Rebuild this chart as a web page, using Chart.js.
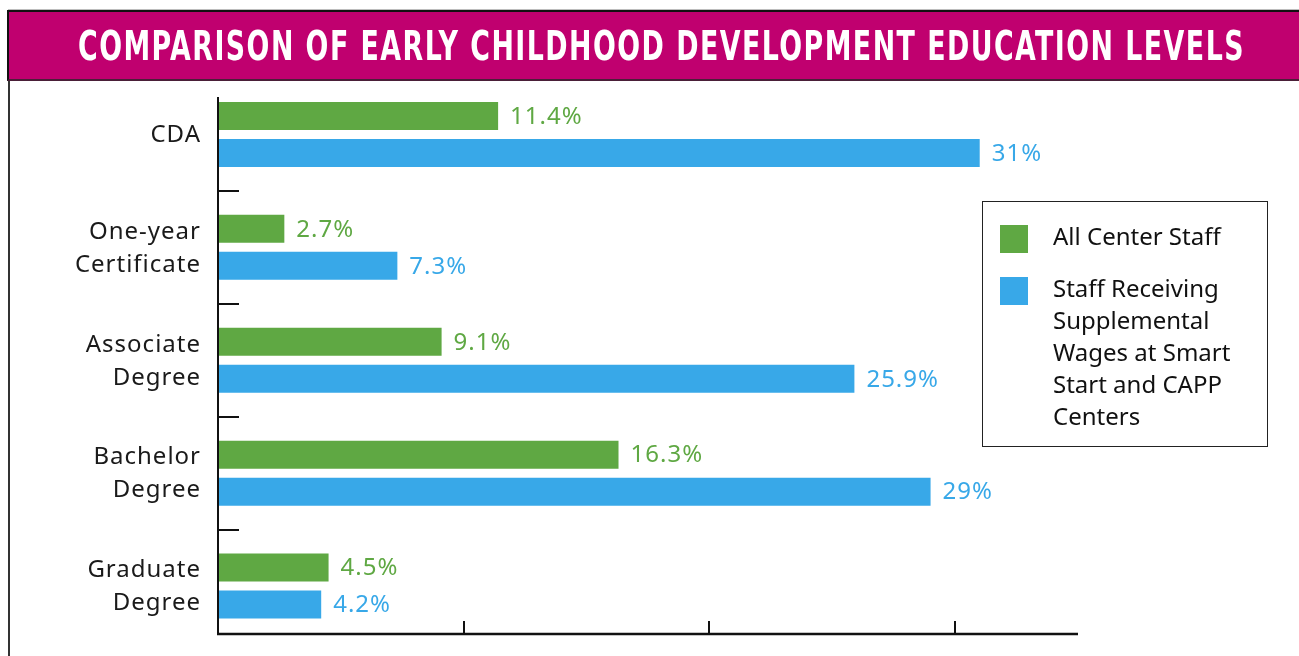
<!DOCTYPE html>
<html>
<head>
<meta charset="utf-8">
<script src="https://cdn.jsdelivr.net/npm/chart.js@4.4.1/dist/chart.umd.min.js"></script>
<style>
  html, body { margin:0; padding:0; background:#fff; width:1299px; height:656px; overflow:hidden; }
  #topline { position:absolute; left:8px; top:9px; width:1291px; height:1px; background:#bdbdbd; }
  #banner { position:absolute; left:7px; top:10px; width:1292px; height:71px; box-sizing:border-box;
            background:#C0006F; border-top:2px solid #111; border-left:2px solid #111; border-bottom:2px solid #4a1f38; }
  #leftline { position:absolute; left:8px; top:81px; width:2px; height:575px; background:#333; }
  #title { position:absolute; left:78px; top:26px; font:bold 41px "DejaVu Sans Condensed","Liberation Sans Narrow","DejaVu Sans",sans-serif;
           line-height:41px; color:#fff; white-space:nowrap; letter-spacing:2px; transform-origin:0 0; }
  #chart { position:absolute; left:0; top:0; }
  #legend { position:absolute; left:982px; top:201px; width:286px; height:246px; box-sizing:border-box; border:1.5px solid #222; background:transparent; }
  .sw { position:absolute; width:28px; height:28px; }
  .txt { position:absolute; font:24px "Noto Sans",sans-serif; color:#111; line-height:32px; white-space:nowrap; }
</style>
</head>
<body>
<div id="topline"></div>
<div id="banner"></div>
<div id="leftline"></div>
<canvas id="chart" width="1299" height="656"></canvas>
<div id="title">COMPARISON OF EARLY CHILDHOOD DEVELOPMENT EDUCATION LEVELS</div>
<div id="legend"></div>
<script>
// ---- data ----
const categories = [["CDA"], ["One-year", "Certificate"], ["Associate", "Degree"], ["Bachelor", "Degree"], ["Graduate", "Degree"]];
const allCenterStaff = [11.4, 2.7, 9.1, 16.3, 4.5];
const supplementalStaff = [31, 7.3, 25.9, 29, 4.2];
const seriesNames = [["All Center Staff"], ["Staff Receiving", "Supplemental", "Wages at Smart", "Start and CAPP", "Centers"]];
const xTicks = [10, 20, 30];
const xMin = 0, xMax = 35;

const GREEN = '#5FA843';
const BLUE = '#38A8E8';

const overlay = {
  id: 'overlay',
  afterDatasetsDraw(chart) {
    const { ctx, scales: { x, y } } = chart;
    const x0 = x.getPixelForValue(xMin);
    const xEnd = x.getPixelForValue(xMax);
    const axisY = 634, axisTop = 97;
    ctx.save();
    ctx.strokeStyle = '#111';
    ctx.lineWidth = 2;
    ctx.beginPath(); ctx.moveTo(x0, axisTop); ctx.lineTo(x0, axisY + 1); ctx.stroke();
    ctx.lineWidth = 2.5;
    ctx.beginPath(); ctx.moveTo(x0 - 1, axisY); ctx.lineTo(xEnd, axisY); ctx.stroke();
    ctx.lineWidth = 2;
    xTicks.forEach(t => {
      const px = Math.round(x.getPixelForValue(t));
      ctx.beginPath(); ctx.moveTo(px, axisY); ctx.lineTo(px, axisY - 13); ctx.stroke();
    });
    for (let i = 0; i < categories.length - 1; i++) {
      const yb = Math.round((y.getPixelForValue(i) + y.getPixelForValue(i + 1)) / 2);
      ctx.beginPath(); ctx.moveTo(x0, yb); ctx.lineTo(x0 + 21, yb); ctx.stroke();
    }
    // category labels
    ctx.font = '24px "Noto Sans", sans-serif';
    ctx.fillStyle = '#1a1a1a';
    ctx.textAlign = 'right';
    ctx.textBaseline = 'middle';
    try { ctx.letterSpacing = '1px'; } catch (e) {}
    categories.forEach((lines, i) => {
      const cy = y.getPixelForValue(i);
      const lh = 33;
      const start = cy - (lines.length - 1) * lh / 2;
      lines.forEach((l, j) => ctx.fillText(l, 201, start + j * lh + 1));
    });
    // value labels
    ctx.textAlign = 'left';
    try { ctx.letterSpacing = '1px'; } catch (e) {}
    chart.data.datasets.forEach((ds, di) => {
      const meta = chart.getDatasetMeta(di);
      ctx.fillStyle = ds.backgroundColor;
      meta.data.forEach((el, i) => {
        ctx.fillText(ds.data[i] + '%', el.x + 12, el.y + 1);
      });
    });
    ctx.restore();
  }
};

const chart = new Chart(document.getElementById('chart'), {
  type: 'bar',
  data: {
    labels: categories,
    datasets: [
      { label: seriesNames[0].join(' '), data: allCenterStaff, backgroundColor: GREEN, categoryPercentage: 0.6555, barPercentage: 0.757 },
      { label: seriesNames[1].join(' '), data: supplementalStaff, backgroundColor: BLUE, categoryPercentage: 0.6555, barPercentage: 0.757 }
    ]
  },
  options: {
    indexAxis: 'y',
    responsive: false,
    animation: false,
    devicePixelRatio: 1,
    layout: { padding: { left: 218, right: 221, top: 78, bottom: 13.5 } },
    scales: {
      x: { type: 'linear', min: xMin, max: xMax, display: false },
      y: { type: 'category', offset: true, display: false }
    },
    plugins: { legend: { display: false }, tooltip: { enabled: false }, title: { display: false } }
  },
  plugins: [overlay]
});

// HTML legend built from datasets
const legend = document.getElementById('legend');
const itemTops = [23, 75];
chart.data.datasets.forEach((ds, i) => {
  const sw = document.createElement('div');
  sw.className = 'sw';
  sw.style.left = '17px';
  sw.style.top = itemTops[i] + 'px';
  sw.style.background = ds.backgroundColor;
  legend.appendChild(sw);
  const t = document.createElement('div');
  t.className = 'txt';
  t.style.left = '70px';
  t.style.top = (itemTops[i] - 5) + 'px';
  t.innerHTML = seriesNames[i].join('<br>');
  legend.appendChild(t);
});

// fit title width
const title = document.getElementById('title');
const w = title.getBoundingClientRect().width;
title.style.transform = 'scaleX(' + (1167 / w) + ')';
</script>
</body>
</html>
